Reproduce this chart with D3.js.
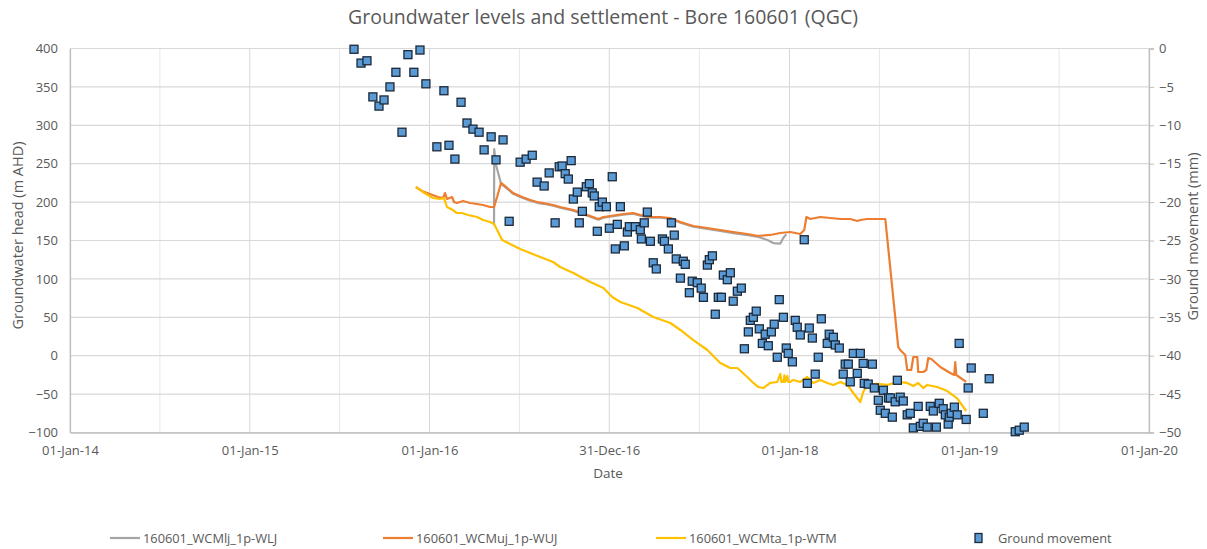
<!DOCTYPE html>
<html>
<head>
<meta charset="utf-8">
<script src="https://cdn.jsdelivr.net/npm/d3@7"></script>
<style>
  body { margin: 0; background: #ffffff; }
  svg text { font-family: "Open Sans", "Liberation Sans", sans-serif; fill: #595959; }
</style>
</head>
<body>
<svg id="chart" width="1207" height="549"></svg>
<script>
// ---- Data -------------------------------------------------------------
// Dates are decimal years; heads in m AHD; ground movement in mm.

const chartTitle = "Groundwater levels and settlement - Bore 160601 (QGC)";
const seriesNames = ["160601_WCMlj_1p-WLJ", "160601_WCMuj_1p-WUJ", "160601_WCMta_1p-WTM", "Ground movement"];

const dateTicks = ["2014-01-01", "2015-01-01", "2016-01-01", "2016-12-31", "2018-01-01", "2019-01-01", "2020-01-01"];
const headTicks = [-100, -50, 0, 50, 100, 150, 200, 250, 300, 350, 400];
const movementTicks = [-50, -45, -40, -35, -30, -25, -20, -15, -10, -5, 0];

// Walloon Coal Measures - lower Juandah
const headWCMlj = [
  [2016.358, 170.2], [2016.359, 269.1], [2016.369, 248.3], [2016.397, 223.8], [2016.431, 217.4],
  [2016.464, 210.8], [2016.514, 205.6], [2016.559, 201.7], [2016.597, 199.1], [2016.631, 197.8],
  [2016.686, 195.2], [2016.725, 192.6], [2016.798, 188.7], [2016.876, 182.2], [2016.937, 177.0],
  [2016.965, 179.6], [2017.003, 180.9], [2017.076, 183.5], [2017.131, 184.8], [2017.170, 182.2],
  [2017.226, 179.6], [2017.281, 179.6], [2017.337, 178.3], [2017.393, 173.1], [2017.465, 167.9],
  [2017.543, 165.1], [2017.615, 162.4], [2017.687, 159.6], [2017.760, 157.3], [2017.827, 154.6],
  [2017.877, 150.7], [2017.910, 146.7], [2017.949, 146.0], [2017.966, 153.5], [2017.982, 158.0]
];

// Walloon Coal Measures - upper Juandah
const headWCMuj = [
  [2015.924, 219.7], [2015.958, 214.5], [2016.002, 210.5], [2016.047, 206.6], [2016.075, 205.3],
  [2016.086, 211.8], [2016.097, 204.0], [2016.125, 206.6], [2016.136, 200.1], [2016.152, 198.8],
  [2016.186, 201.4], [2016.225, 198.8], [2016.264, 197.5], [2016.297, 196.2], [2016.336, 193.6],
  [2016.358, 193.6], [2016.375, 206.6], [2016.397, 224.9], [2016.431, 218.4], [2016.464, 211.8],
  [2016.514, 206.6], [2016.559, 202.7], [2016.597, 200.1], [2016.631, 198.8], [2016.686, 196.2],
  [2016.725, 193.6], [2016.798, 189.7], [2016.876, 183.2], [2016.937, 178.0], [2016.965, 180.6],
  [2017.003, 181.9], [2017.076, 184.5], [2017.131, 185.8], [2017.170, 183.2], [2017.226, 180.6],
  [2017.281, 180.6], [2017.337, 179.3], [2017.393, 174.1], [2017.465, 168.9], [2017.543, 166.3],
  [2017.615, 163.7], [2017.687, 161.1], [2017.765, 158.5], [2017.827, 155.9], [2017.893, 157.2],
  [2017.949, 159.8], [2018.005, 161.1], [2018.060, 158.5], [2018.082, 163.7], [2018.094, 180.6],
  [2018.116, 178.0], [2018.171, 180.6], [2018.227, 179.3], [2018.283, 178.0], [2018.338, 178.0],
  [2018.377, 175.4], [2018.394, 176.7], [2018.433, 178.0], [2018.533, 178.0], [2018.605, 11.3],
  [2018.616, 7.4], [2018.644, 0.9], [2018.655, -18.6], [2018.677, -18.6], [2018.689, -1.7],
  [2018.711, -1.7], [2018.716, -21.2], [2018.744, -21.2], [2018.761, -18.6], [2018.772, -3.0],
  [2018.789, -4.3], [2018.839, -14.7], [2018.894, -22.5], [2018.917, -25.1], [2018.922, -8.2],
  [2018.928, -25.1], [2018.983, -34.2]
];

// Walloon Coal Measures - Taroom
const headWCMta = [
  [2015.924, 219.7], [2015.963, 213.2], [2016.019, 205.3], [2016.058, 204.0], [2016.080, 205.3],
  [2016.097, 193.6], [2016.130, 189.7], [2016.152, 185.8], [2016.180, 185.8], [2016.214, 183.2],
  [2016.264, 180.6], [2016.297, 176.7], [2016.336, 174.1], [2016.358, 171.5], [2016.381, 161.1],
  [2016.403, 150.7], [2016.447, 145.4], [2016.503, 139.0], [2016.614, 128.5], [2016.686, 122.0],
  [2016.725, 115.5], [2016.798, 107.7], [2016.892, 96.0], [2016.965, 88.2], [2017.014, 76.4],
  [2017.059, 69.9], [2017.154, 62.1], [2017.242, 50.4], [2017.337, 42.6], [2017.393, 33.5],
  [2017.465, 20.4], [2017.543, 7.4], [2017.587, -3.0], [2017.615, -9.5], [2017.671, -16.0],
  [2017.710, -16.0], [2017.765, -27.7], [2017.799, -35.5], [2017.827, -40.8], [2017.854, -42.1],
  [2017.893, -35.5], [2017.932, -34.2], [2017.949, -23.8], [2017.955, -34.2], [2017.966, -34.2],
  [2017.972, -25.5], [2017.977, -34.2], [2017.988, -26.4], [2017.994, -34.2], [2018.005, -34.2],
  [2018.021, -31.6], [2018.060, -34.2], [2018.099, -27.7], [2018.132, -35.5], [2018.171, -31.6],
  [2018.210, -35.5], [2018.244, -38.1], [2018.283, -34.2], [2018.322, -38.1], [2018.355, -48.6],
  [2018.394, -60.3], [2018.410, -47.3], [2018.433, -38.1], [2018.488, -36.8], [2018.544, -38.1],
  [2018.600, -34.2], [2018.655, -35.5], [2018.689, -39.5], [2018.716, -35.5], [2018.744, -42.1],
  [2018.766, -38.1], [2018.822, -40.8], [2018.878, -46.0], [2018.933, -55.5], [2018.967, -66.8],
  [2018.983, -72.0]
];

// Survey ground movement (mm)
const groundMovement = [
  [2015.580, -0.1], [2015.619, -1.9], [2015.652, -1.6], [2015.685, -6.3], [2015.719, -7.5],
  [2015.747, -6.7], [2015.780, -5.0], [2015.813, -3.1], [2015.847, -10.9], [2015.880, -0.8],
  [2015.913, -3.1], [2015.947, -0.2], [2015.980, -4.6], [2016.041, -12.8], [2016.080, -5.5],
  [2016.108, -12.6], [2016.141, -14.4], [2016.175, -7.0], [2016.208, -9.7], [2016.241, -10.5],
  [2016.275, -10.9], [2016.303, -13.2], [2016.342, -11.5], [2016.369, -14.5], [2016.408, -11.9],
  [2016.442, -22.5], [2016.503, -14.8], [2016.536, -14.4], [2016.570, -13.9], [2016.597, -17.4],
  [2016.636, -17.9], [2016.664, -16.2], [2016.697, -22.7], [2016.720, -15.4], [2016.736, -15.3],
  [2016.753, -16.3], [2016.770, -17.0], [2016.786, -14.6], [2016.798, -19.6], [2016.820, -18.7],
  [2016.831, -22.7], [2016.848, -21.2], [2016.870, -18.0], [2016.887, -17.6], [2016.903, -18.8],
  [2016.914, -19.2], [2016.931, -23.8], [2016.942, -20.6], [2016.959, -20.0], [2016.981, -20.6],
  [2016.998, -23.4], [2017.014, -16.7], [2017.031, -26.1], [2017.042, -22.9], [2017.059, -20.6],
  [2017.081, -25.7], [2017.098, -23.9], [2017.109, -23.2], [2017.142, -23.2], [2017.170, -23.6],
  [2017.176, -24.8], [2017.192, -22.7], [2017.209, -21.3], [2017.226, -25.1], [2017.242, -27.9],
  [2017.259, -28.7], [2017.293, -24.8], [2017.304, -25.1], [2017.326, -26.1], [2017.343, -22.7],
  [2017.359, -24.3], [2017.370, -27.4], [2017.393, -29.9], [2017.409, -27.7], [2017.420, -28.1],
  [2017.443, -31.8], [2017.459, -30.3], [2017.487, -30.5], [2017.509, -31.2], [2017.521, -32.4],
  [2017.543, -28.2], [2017.554, -27.5], [2017.571, -27.0], [2017.587, -34.6], [2017.604, -32.4],
  [2017.621, -32.4], [2017.632, -29.5], [2017.654, -30.1], [2017.671, -29.2], [2017.687, -32.9],
  [2017.710, -31.6], [2017.732, -31.2], [2017.749, -39.1], [2017.771, -36.9], [2017.782, -35.4],
  [2017.799, -35.0], [2017.815, -34.2], [2017.832, -36.5], [2017.849, -38.4], [2017.865, -37.2],
  [2017.882, -38.7], [2017.899, -36.9], [2017.915, -35.9], [2017.932, -40.2], [2017.943, -32.7],
  [2017.966, -35.0], [2017.982, -39.0], [2017.993, -39.7], [2018.016, -40.8], [2018.032, -35.4],
  [2018.043, -36.3], [2018.060, -37.3], [2018.082, -24.9], [2018.099, -43.6], [2018.110, -36.4],
  [2018.127, -37.7], [2018.143, -42.4], [2018.160, -40.2], [2018.177, -35.2], [2018.210, -38.4],
  [2018.221, -37.2], [2018.244, -37.6], [2018.255, -38.6], [2018.277, -39.0], [2018.299, -42.4],
  [2018.310, -41.1], [2018.327, -41.1], [2018.338, -43.4], [2018.355, -39.7], [2018.377, -42.3],
  [2018.394, -39.7], [2018.410, -41.0], [2018.416, -43.6], [2018.438, -43.7], [2018.461, -41.1],
  [2018.472, -44.2], [2018.494, -45.8], [2018.505, -47.1], [2018.522, -44.5], [2018.533, -47.5],
  [2018.550, -45.5], [2018.561, -45.5], [2018.572, -48.0], [2018.588, -46.0], [2018.600, -43.2],
  [2018.616, -45.4], [2018.633, -45.9], [2018.655, -47.7], [2018.672, -47.5], [2018.689, -49.4],
  [2018.716, -46.6], [2018.728, -49.2], [2018.744, -48.8], [2018.766, -49.3], [2018.783, -46.6],
  [2018.800, -47.2], [2018.817, -49.3], [2018.833, -46.2], [2018.855, -46.9], [2018.867, -47.7],
  [2018.883, -48.9], [2018.889, -48.0], [2018.900, -47.5], [2018.917, -46.7], [2018.933, -47.7],
  [2018.944, -38.4], [2018.983, -48.3], [2018.994, -44.2], [2019.011, -41.6], [2019.078, -47.5],
  [2019.111, -43.0], [2019.256, -49.9], [2019.278, -49.7], [2019.306, -49.3]
];

const seriesColors = ["#A5A5A5", "#ED7D31", "#FFC000", "#5B9BD5"];

// ---- Layout -----------------------------------------------------------
const W = 1207, H = 549;
const plot = { left: 70, right: 1149, top: 48.5, bottom: 432.5 };

const svg = d3.select("#chart");

// decimal year -> UTC Date
function yearToDate(y) {
  const yr = Math.floor(y);
  const a = Date.UTC(yr, 0, 1), b = Date.UTC(yr + 1, 0, 1);
  return new Date(a + (y - yr) * (b - a));
}
const parseDay = d3.utcParse("%Y-%m-%d");
const tickDates = dateTicks.map(parseDay);

const x = d3.scaleUtc()
  .domain([tickDates[0], tickDates[tickDates.length - 1]])
  .range([plot.left, plot.right]);
const yHead = d3.scaleLinear().domain([-100, 400]).range([plot.bottom, plot.top]);
const yMove = d3.scaleLinear().domain([-50, 0]).range([plot.bottom, plot.top]);

// ---- Grid -------------------------------------------------------------
const grid = svg.append("g");

// half-way gridlines between the labelled dates
const midDates = d3.pairs(tickDates).map(([a, b]) => new Date((+a + +b) / 2));
grid.selectAll("line.minor").data(midDates).join("line")
  .attr("x1", d => x(d)).attr("x2", d => x(d))
  .attr("y1", plot.top).attr("y2", plot.bottom)
  .attr("stroke", "#E7E7E7").attr("stroke-width", 1);

grid.selectAll("line.major").data(tickDates).join("line")
  .attr("x1", d => x(d)).attr("x2", d => x(d))
  .attr("y1", plot.top).attr("y2", plot.bottom)
  .attr("stroke", "#D6D6D6").attr("stroke-width", 1);

grid.selectAll("line.h").data(headTicks).join("line")
  .attr("x1", plot.left).attr("x2", plot.right)
  .attr("y1", d => yHead(d)).attr("y2", d => yHead(d))
  .attr("stroke", "#D9D9D9").attr("stroke-width", 1.2);

// ---- Axes -------------------------------------------------------------
const axisColor = "#BFBFBF";

const xAxis = svg.append("g")
  .attr("transform", `translate(0,${plot.bottom})`)
  .call(d3.axisBottom(x).tickValues(tickDates).tickFormat(d3.utcFormat("%d-%b-%y")).tickSize(0).tickPadding(13));
xAxis.select(".domain").attr("stroke", axisColor).attr("stroke-width", 1.3);
xAxis.selectAll("text").style("font-size", "13px");

const yAxisL = svg.append("g")
  .attr("transform", `translate(${plot.left},0)`)
  .call(d3.axisLeft(yHead).tickValues(headTicks).tickSize(0).tickPadding(12));
yAxisL.select(".domain").attr("stroke", axisColor).attr("stroke-width", 1.3);
yAxisL.selectAll("text").style("font-size", "13px");

const yAxisR = svg.append("g")
  .attr("transform", `translate(${plot.right},0)`)
  .call(d3.axisRight(yMove).tickValues(movementTicks).tickSize(5).tickPadding(5));
yAxisR.select(".domain").attr("stroke", axisColor).attr("stroke-width", 1.3);
yAxisR.selectAll(".tick line").attr("stroke", axisColor);
yAxisR.selectAll("text").style("font-size", "13px");

// ---- Lines ------------------------------------------------------------
const headLine = d3.line()
  .x(d => x(yearToDate(d[0])))
  .y(d => yHead(d[1]));

const lineSeries = [headWCMlj, headWCMuj, headWCMta];
svg.append("g").selectAll("path").data(lineSeries).join("path")
  .attr("d", headLine)
  .attr("fill", "none")
  .attr("stroke", (d, i) => seriesColors[i])
  .attr("stroke-width", 2.2)
  .attr("stroke-linejoin", "round");

// ---- Ground movement markers -----------------------------------------
const sq = 8;
svg.append("g").selectAll("rect").data(groundMovement).join("rect")
  .attr("x", d => x(yearToDate(d[0])) - sq / 2)
  .attr("y", d => yMove(d[1]) - sq / 2)
  .attr("width", sq).attr("height", sq)
  .attr("fill", seriesColors[3])
  .attr("stroke", "#1B2838")
  .attr("stroke-width", 1.3);

// ---- Titles -----------------------------------------------------------
svg.append("text")
  .attr("x", 603).attr("y", 24)
  .attr("text-anchor", "middle")
  .style("font-size", "19.5px")
  .text(chartTitle);

svg.append("text")
  .attr("transform", `translate(23,${(plot.top + plot.bottom) / 2 - 5}) rotate(-90)`)
  .attr("text-anchor", "middle")
  .style("font-size", "14.5px")
  .text("Groundwater head (m AHD)");

svg.append("text")
  .attr("transform", `translate(1198,${(plot.top + plot.bottom) / 2 - 4}) rotate(-90)`)
  .attr("text-anchor", "middle")
  .style("font-size", "14.5px")
  .text("Ground movement (mm)");

svg.append("text")
  .attr("x", 608).attr("y", 478)
  .attr("text-anchor", "middle")
  .style("font-size", "13.5px")
  .text("Date");

// ---- Legend -----------------------------------------------------------
const legendY = 538;
const legendX = [110, 383, 656, 975];
const legend = svg.append("g");
seriesNames.forEach((name, i) => {
  const g = legend.append("g").attr("transform", `translate(${legendX[i]},${legendY})`);
  if (i < 3) {
    g.append("line").attr("x1", 0).attr("x2", 30).attr("y1", 0).attr("y2", 0)
      .attr("stroke", seriesColors[i]).attr("stroke-width", 2.2);
    g.append("text").attr("x", 33).attr("y", 4.5).style("font-size", "12.8px").text(name);
  } else {
    g.append("rect").attr("x", 0).attr("y", -4.5).attr("width", 7).attr("height", 9)
      .attr("fill", seriesColors[3]).attr("stroke", "#1B2838").attr("stroke-width", 1.3);
    g.append("text").attr("x", 23).attr("y", 4.5).style("font-size", "12.8px").text(name);
  }
});
</script>
</body>
</html>
